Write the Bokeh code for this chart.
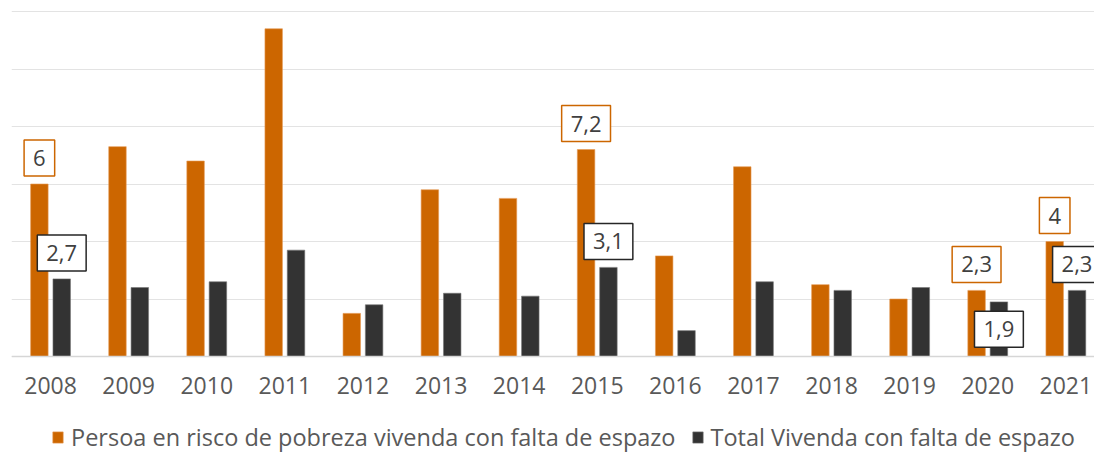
from bokeh.plotting import figure
from bokeh.models import (ColumnDataSource, FixedTicker, Legend, LegendItem,
                          Range1d, Span)
from bokeh.core.properties import value
from bokeh.embed import file_html
from bokeh.resources import INLINE

# ---- data ----
years = ["2008", "2009", "2010", "2011", "2012", "2013", "2014",
         "2015", "2016", "2017", "2018", "2019", "2020", "2021"]
risk = [6.0, 7.3, 6.8, 11.4, 1.5, 5.8, 5.5, 7.2, 3.5, 6.6, 2.5, 2.0, 2.3, 4.0]
total = [2.7, 2.4, 2.6, 3.7, 1.8, 2.2, 2.1, 3.1, 0.9, 2.6, 2.3, 2.4, 1.9, 2.3]
risk_labels = ["6", "", "", "", "", "", "", "7,2", "", "", "", "", "2,3", "4"]
total_labels = ["2,7", "", "", "", "", "", "", "3,1", "", "", "", "", "1,9", "2,3"]
total_label_inside = [False] * 12 + [True, False]
grid_ticks = [0, 2, 4, 6, 8, 10, 12]
series_names = ["Persoa en risco de pobreza vivenda con falta de espazo",
                "Total Vivenda con falta de espazo"]

ORANGE = "#CC6600"
DARK = "#333333"
TXT = "#595959"
FONT = "Open Sans"

xs = [i + 0.5 for i in range(len(years))]
off = 0.143
bw = 0.224
ppu = 345 / 12.0  # pixels per unit
y_top = 12 + 3 / ppu
y_bot = y_top - 444 / ppu

p = figure(frame_width=1083, frame_height=444, output_backend="svg", toolbar_location=None,
           x_range=Range1d(0, 1083 / 78.1), y_range=Range1d(y_bot, y_top),
           x_axis_location=None,
           min_border_left=11, min_border_right=0, min_border_top=8,
           min_border_bottom=0)
p.outline_line_color = None
p.background_fill_color = "white"
p.border_fill_color = "white"

# grid
p.yaxis.visible = False
p.ygrid.ticker = FixedTicker(ticks=grid_ticks)
p.ygrid.grid_line_color = "#E3E3E3"
p.ygrid.grid_line_width = 1.2
p.xgrid.visible = False
p.add_layout(Span(location=0, dimension="width", line_color="#D6D6D6", line_width=1.5))

src = ColumnDataSource(dict(
    x=xs, risk=risk, total=total,
    xr=[x - off for x in xs], xt=[x + off for x in xs],
))
r1 = p.vbar(x="xr", top="risk", width=bw, source=src, fill_color=ORANGE,
            line_color="#E59A55", line_width=0.6)
r2 = p.vbar(x="xt", top="total", width=bw, source=src, fill_color=DARK,
            line_color="#777777", line_width=0.6)

# category labels (x axis)
p.text(x=xs, y=[0] * len(xs), text=years, text_font=value(FONT),
       text_font_size="23px", text_color=TXT, text_align="center",
       text_baseline="top", y_offset=20)

# data labels
lab_kw = dict(text_font=value(FONT), text_font_size="22px", text_color="#404040",
              text_align="center", background_fill_color="white",
              border_line_width=1.5, padding=(9, 10))

rl = [(x - off, v, t) for x, v, t in zip(xs, risk, risk_labels) if t]
p.text(x=[a[0] for a in rl], y=[a[1] for a in rl], text=[a[2] for a in rl],
       text_baseline="bottom", y_offset=-8, border_line_color=ORANGE, **lab_kw)
tl_out = [(x + off, v, t) for x, v, t, ins in zip(xs, total, total_labels, total_label_inside) if t and not ins]
p.text(x=[a[0] for a in tl_out], y=[a[1] for a in tl_out], text=[a[2] for a in tl_out],
       text_baseline="bottom", y_offset=-8, border_line_color="#262626", **lab_kw)
tl_in = [(x + off, v / 2, t) for x, v, t, ins in zip(xs, total, total_labels, total_label_inside) if t and ins]
p.text(x=[a[0] for a in tl_in], y=[a[1] for a in tl_in], text=[a[2] for a in tl_in],
       text_baseline="middle", border_line_color="#262626", **lab_kw)

legend = Legend(items=[LegendItem(label=series_names[0], renderers=[r1]),
                       LegendItem(label=series_names[1], renderers=[r2])],
                orientation="horizontal", location=(40, -1),
                label_text_font=FONT, label_text_font_size="23.5px",
                label_text_color=TXT, glyph_width=13, glyph_height=14,
                label_standoff=7, spacing=15, padding=0, margin=0,
                border_line_color=None, background_fill_alpha=0)
p.add_layout(legend, "center")

open("out.html", "w").write(file_html(p, INLINE))
